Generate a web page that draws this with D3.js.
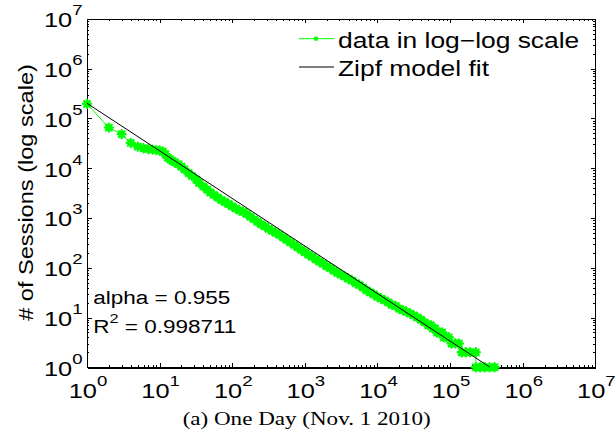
<!DOCTYPE html>
<html><head><meta charset="utf-8">
<script src="https://cdn.jsdelivr.net/npm/d3@7"></script>
<style>body{margin:0;background:#fff}svg{display:block}</style>
</head><body><svg id="c" width="615" height="444"></svg>
<script>
// ---- data ----
const ranks = [1,2,3,4,5,6,7,8,9,10,11,12,13,14,15,
  16,18,20,22,25,28,32,35,40,45,50,56,63,71,79,89,
  100,112,126,141,158,178,200,224,251,282,316,355,398,447,501,562,631,708,794,891,
  1000,1122,1259,1413,1585,1778,1995,2239,2512,2818,3162,3548,3981,4467,5012,5623,6310,7079,7943,8913,
  10000,11220,12589,14125,15849,17783,19953,22387,25119,28184,31623,35481,39811,44668,50119,
  54000,58000,62000,66000,72000,78000,82000,89000,96000,105000,118000,132000,
  145000,165000,190000,226000,227000,260000,300000,350000,410000];
const sessions = [195000,65000,48000,32000,27000,25000,24000,23500,23000,22500,21500,19000,16000,15000,14000,
  13200,12000,10700,9330,7940,6920,5890,5010,4270,3720,3240,2880,2570,2290,2090,1905,
  1700,1550,1410,1320,1200,1050,933,832,741,676,603,550,501,457,407,363,324,288,257,229,
  204,182,166,148,132,120,107,98,87,79,72,66,60,55,49,45,40,35,32,29,
  26,24,22,20,18,17,15,14,13,12,11,10,9,8,7,
  7,6,6,5,5,5,4,4,4,3,3,3,
  2,2,2,2,1,1,1,1,1];
const xTickExponents = [0,1,2,3,4,5,6,7];
const yTickExponents = [0,1,2,3,4,5,6,7];
const fitAlpha = 0.955;
const fitScale = 2e5;
const fitRankRange = [1, 3.5e5];
const legendLabels = ["data in log\u2212log scale", "Zipf model fit"];
const statNames = ["alpha", "R"];
const statValues = ["0.955", "0.998711"];
const yLabel = "# of Sessions (log scale)";
const caption = "(a) One Day (Nov. 1 2010)";

// ---- layout ----
const L = 87, R = 595.3, T = 18.7, B = 367.3;
const GREEN = "#00ff00";
const SANS = "'Liberation Sans', Arial, Helvetica, sans-serif";
const SERIF = "'Liberation Serif', 'DejaVu Serif', serif";

const svg = d3.select("#c");
svg.append("rect").attr("width",615).attr("height",444).attr("fill","#fff");

const x = d3.scaleLog().domain([1,1e7]).range([L,R]);
const y = d3.scaleLog().domain([1,1e7]).range([B,T]);

const majorX = xTickExponents.map(e => Math.pow(10,e));
const majorY = yTickExponents.map(e => Math.pow(10,e));
const minorOf = maj => { const m=[]; maj.slice(0,-1).forEach(d=>{for(let k=2;k<=9;k++) m.push(k*d);}); return m; };
const minorX = minorOf(majorX), minorY = minorOf(majorY);

function addAxis(fn, scale, vals, size, tr, domainW) {
  const g = svg.append("g").attr("transform", tr)
    .call(fn(scale).tickValues(vals).tickSizeInner(-size).tickSizeOuter(0).tickFormat(""));
  g.selectAll("line").attr("stroke","#000").attr("stroke-width",1);
  g.select(".domain").attr("stroke","#000").attr("stroke-width",domainW);
  g.attr("shape-rendering","crispEdges");
  return g;
}
// minor ticks
addAxis(d3.axisBottom, x, minorX, 2.2, `translate(0,${B})`, 2);
addAxis(d3.axisTop, x, minorX, 2.2, `translate(0,${T})`, 1);
addAxis(d3.axisLeft, y, minorY, 2.2, `translate(${L},0)`, 1);
addAxis(d3.axisRight, y, minorY, 2.2, `translate(${R},0)`, 1);
// major ticks
addAxis(d3.axisBottom, x, majorX, 4.5, `translate(0,${B})`, 2);
addAxis(d3.axisTop, x, majorX, 4.5, `translate(0,${T})`, 1);
addAxis(d3.axisLeft, y, majorY, 4.5, `translate(${L},0)`, 1);
addAxis(d3.axisRight, y, majorY, 4.5, `translate(${R},0)`, 1);

// tick labels
const TICK_FS = 20.5, TICK_SX = 1.24;
xTickExponents.forEach(e => {
  const t = svg.append("text")
    .attr("transform", `translate(${x(Math.pow(10,e))+1},398.3) scale(${TICK_SX},1)`)
    .attr("text-anchor","middle").style("font-family",SANS).style("font-size",TICK_FS+"px");
  t.append("tspan").text("10");
  t.append("tspan").attr("dy",-12).style("font-size","15px").text(e);
});
yTickExponents.forEach(e => {
  const t = svg.append("text")
    .attr("transform", `translate(82.5,${y(Math.pow(10,e))+8.5}) scale(${TICK_SX},1)`)
    .attr("text-anchor","end").style("font-family",SANS).style("font-size",TICK_FS+"px");
  t.append("tspan").text("10");
  t.append("tspan").attr("dy",-12).style("font-size","15px").text(e);
});

// y axis label
svg.append("text")
  .attr("transform","translate(33.3,192.5) rotate(-90) scale(1.15,1)")
  .attr("text-anchor","middle").style("font-family",SANS).style("font-size","20.5px")
  .text(yLabel);

// data
const pts = ranks.map((r,i) => [r, sessions[i]]);
const line = d3.line().x(d => x(d[0])).y(d => y(d[1]));
const s = 4, k = s*0.7071;
const star = `M${-s},0H${s}M0,${-s}V${s}M${-k},${-k}L${k},${k}M${-k},${k}L${k},${-k}`;

svg.append("path").datum(pts).attr("d",line).attr("fill","none").attr("stroke",GREEN).attr("stroke-width",1);
svg.append("g").selectAll("path").data(pts).join("path")
  .attr("transform", d => `translate(${x(d[0])},${y(d[1])})`)
  .attr("d", star).attr("fill","none").attr("stroke",GREEN).attr("stroke-width",2.4)
  .attr("stroke-linecap","round");

// fit line
const fitPts = fitRankRange.map(r => [r, fitScale*Math.pow(r,-fitAlpha)]);
svg.append("path").datum(fitPts).attr("d",line).attr("fill","none").attr("stroke","#000").attr("stroke-width",1);

// legend
const LEG_FS = 22, LEG_SX = 1.2;
const legRows = [38.7, 67];
const legText = [48, 75.5];
svg.append("line").attr("x1",299).attr("x2",334).attr("y1",legRows[0]).attr("y2",legRows[0]).attr("stroke",GREEN).attr("stroke-width",1);
svg.append("path").attr("transform",`translate(316,${legRows[0]}) scale(0.6)`).attr("d",star).attr("fill","none").attr("stroke",GREEN).attr("stroke-width",2);
svg.append("line").attr("x1",299).attr("x2",334).attr("y1",legRows[1]).attr("y2",legRows[1]).attr("stroke","#000").attr("stroke-width",1);
legendLabels.forEach((lab,i) => {
  svg.append("text").attr("transform",`translate(338,${legText[i]}) scale(${LEG_SX},1)`)
    .style("font-family",SANS).style("font-size",LEG_FS+"px").text(lab);
});

// statistics annotation
const ANN_FS = 18, ANN_SX = 1.25;
const a1 = svg.append("text").attr("transform",`translate(93.3,303.5) scale(${ANN_SX},1)`)
  .style("font-family",SANS).style("font-size",ANN_FS+"px");
a1.text(`${statNames[0]} = ${statValues[0]}`);
const a2 = svg.append("text").attr("transform",`translate(93.3,332.5) scale(${ANN_SX},1)`)
  .style("font-family",SANS).style("font-size",ANN_FS+"px");
a2.append("tspan").text(statNames[1]);
a2.append("tspan").attr("dy",-10).style("font-size","13px").text("2");
a2.append("tspan").attr("dy",10).text(` = ${statValues[1]}`);

// caption
svg.append("text").attr("transform","translate(306.7,425) scale(1.24,1)")
  .attr("text-anchor","middle").style("font-family",SERIF).style("font-size","18.6px")
  .text(caption);
</script></body></html>
